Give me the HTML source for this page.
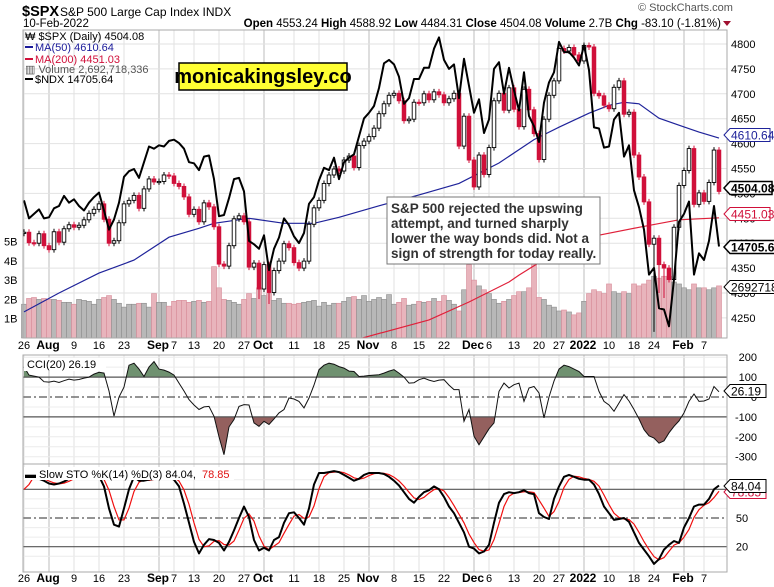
<!DOCTYPE html>
<html><head><meta charset="utf-8"><style>
body{margin:0;background:#fff;}
svg{display:block;font-family:"Liberation Sans",Arial,sans-serif;}
</style></head><body>
<svg id="chart" width="774" height="587" viewBox="0 0 774 587" xmlns="http://www.w3.org/2000/svg">
<rect x="0" y="0" width="774" height="587" fill="#fff"/>
<g>
<text x="22" y="16" font-size="14.5" font-weight="bold" fill="#000">$SPX</text>
<text x="60" y="16" font-size="12" fill="#000">S&amp;P 500 Large Cap Index  INDX</text>
<text x="23" y="27" font-size="11.5" fill="#000">10-Feb-2022</text>
<text x="638" y="11" font-size="11" fill="#555">© StockCharts.com</text>
<text x="721" y="27" font-size="11.5" fill="#000" text-anchor="end"><tspan font-weight="bold">Open</tspan> 4553.24 <tspan font-weight="bold">High</tspan> 4588.92 <tspan font-weight="bold">Low</tspan> 4484.31 <tspan font-weight="bold">Close</tspan> 4504.08 <tspan font-weight="bold">Volume</tspan> 2.7B <tspan font-weight="bold">Chg</tspan> -83.10 (-1.81%)</text>
<polygon points="723,21 731,21 727,26" fill="#a01030"/>
</g>
<g id="grid"></g>
<g id="volume"></g>
<g id="main"></g>
<g id="cci"></g>
<g id="sto"></g>
<g id="axes"></g>
<g font-size="11">
<text x="25" y="40" fill="#000">₩ $SPX (Daily) 4504.08</text>
<line x1="25" y1="47" x2="33" y2="47" stroke="#1a1a9a" stroke-width="2"/>
<text x="35" y="51" fill="#1a1a9a">MA(50) 4610.64</text>
<line x1="25" y1="59" x2="33" y2="59" stroke="#d0103a" stroke-width="2"/>
<text x="35" y="63" fill="#d0103a">MA(200) 4451.03</text>
<text x="25" y="73" fill="#555">▥ Volume 2,692,718,336</text>
<line x1="25" y1="79" x2="33" y2="79" stroke="#000" stroke-width="2"/>
<text x="35" y="83" fill="#000">$NDX 14705.64</text>
</g>
<g>
<rect x="179" y="63" width="168" height="27" fill="#ffff33" stroke="#000" stroke-width="1.5"/>
<text x="263" y="83" font-size="20" font-weight="bold" text-anchor="middle" fill="#000">monicakingsley.co</text>
</g>
<g>
<rect x="387" y="197" width="213" height="67" fill="#fff" stroke="#777" stroke-width="1"/>
<text font-size="13.5" font-weight="bold" fill="#333">
<tspan x="391" y="213">S&amp;P 500 rejected the upswing</tspan>
<tspan x="391" y="228">attempt, and turned sharply</tspan>
<tspan x="391" y="243">lower the way bonds did. Not a</tspan>
<tspan x="391" y="258">sign of strength for today really.</tspan>
</text>
</g>
<g id="labels"></g>
</svg>
<script>
// ---------- data ----------
const closes = [4422,4401,4400,4419,4395,
4387,4423,4402,4429,4437,4432,4436,4447,4460,4468,4479,4448,4400,4405,4441,4479,4486,4496,4470,4509,4529,4523,
4524,4537,4535,4520,4514,4493,4458,4468,4443,4481,4473,4433,4358,4354,4395,4449,4455,4443,4352,4360,4308,
4357,4301,4345,4364,4399,4391,4361,4350,4364,4438,4471,4486,4520,4537,4549,4545,4567,4575,4552,4596,4605,
4614,4631,4660,4680,4697,4701,4686,4646,4649,4683,4682,4700,4688,4704,4698,4682,4690,4701,4595,4655,4567,
4513,4577,4538,4592,4686,4701,4667,4712,4669,4634,4709,4668,4620,4568,4649,4697,4726,4791,4786,4793,4778,4766,
4797,4794,4701,4696,4677,4670,4713,4726,4659,4663,4577,4533,4483,4398,4410,4357,4350,4327,4432,4516,
4546,4590,4478,4501,4484,4522,4587,4504];
const firstOpen = 4420;
const lowExtremes = [[47,4288],[49,4278],[126,4222],[125,4395],[127,4300],[128,4290],[112,4786]];
const ndx = [15120,14960,15000,15040,14960,
14970,15050,15070,15160,15100,15130,15070,15030,15100,15150,15190,15030,14860,14950,15100,15330,15380,15400,15320,15460,15600,15580,
15610,15600,15650,15660,15630,15580,15460,15450,15390,15510,15520,15310,14980,14990,15140,15310,15320,15200,14760,14730,14690,
14810,14500,14690,14790,14960,14900,14800,14740,14830,15090,15150,15300,15410,15390,15500,15310,15460,15500,15530,15690,15850,
15900,15960,16120,16340,16370,16330,16220,15980,16030,16200,16200,16300,16300,16470,16570,16370,16290,16330,16030,16380,16140,
15900,16020,15720,15840,16290,16350,16070,16300,16100,15920,16260,15870,15780,15640,15990,16170,16260,16530,16440,16440,16390,16320,
16500,16280,15770,15760,15590,15600,15840,15900,15510,15610,15210,15060,14860,14460,14520,14160,14150,14000,14420,14930,
15000,15110,14460,14650,14590,14760,15070,14710];
const volume = [1.75,2.05,2.1,2.0,2.05,
2.0,2.0,1.95,1.85,1.85,1.75,2.0,1.95,1.9,1.75,2.0,2.1,2.2,2.0,1.8,1.6,1.75,1.75,1.8,1.8,1.6,2.3,
1.85,1.85,1.65,1.9,1.95,1.95,1.85,1.9,1.95,1.85,1.9,3.7,2.6,2.0,1.95,1.85,1.75,2.0,2.3,2.05,2.6,
2.2,2.3,1.95,2.05,1.8,1.8,1.75,1.8,1.85,1.9,1.95,1.65,1.85,1.7,1.8,1.8,1.9,2.1,2.15,2.0,2.2,
1.9,2.0,2.1,2.0,2.25,1.75,1.85,2.05,1.7,1.75,1.9,1.85,1.9,2.05,1.9,2.2,1.95,1.75,1.4,2.5,3.8,
3.0,2.7,2.5,2.3,2.0,1.8,1.9,2.0,2.2,2.4,2.4,2.6,3.9,2.1,2.0,1.7,1.6,1.4,1.45,1.35,1.2,1.3,
1.9,2.3,2.5,2.4,2.3,2.8,2.4,2.3,2.4,2.3,2.8,2.7,2.8,3.0,3.2,3.1,3.2,3.2,2.9,2.8,
2.6,2.5,2.8,2.6,2.6,2.5,2.6,2.7];
const ma50Idx = [0,7,15,22,29,35,38,45,52,58,63,71,79,87,95,102,107,113,117,120,123,127,131,135,139];
const ma50Val = [4262,4300,4340,4366,4412,4430,4440,4450,4440,4440,4452,4475,4497,4520,4561,4608,4633,4661,4677,4683,4680,4651,4637,4623,4611];
const ma200Idx = [66,81,89,97,99,107,115,123,131,139];
const ma200Val = [4205,4246,4282,4322,4336,4386,4416,4432,4447,4451];
const cci = [152,110,105,100,77,75,80,73,82,90,85,88,95,100,115,124,120,30,-96,0,50,160,170,140,103,150,178,140,135,125,
110,70,30,-13,-40,-63,-50,-47,-97,-200,-290,-150,-113,-47,-38,-40,-130,-147,-122,-138,-110,-80,-63,-5,-10,-22,-55,-5,60,137,
160,170,165,153,145,130,128,103,105,108,110,112,120,130,137,120,100,70,72,87,95,85,78,85,87,60,37,37,-122,-63,
-197,-240,-200,-160,-130,28,70,45,62,70,-22,45,53,20,-105,0,80,140,160,153,140,128,103,103,103,28,-22,-40,-72,-30,
12,-20,-63,-110,-164,-195,-206,-232,-220,-180,-147,-120,-80,-22,15,-22,-20,-10,53,26];
const stoK = [93,94,93,91,89,86,85,86,88,91,94,95,95,95,94,94,83,60,43,41,60,80,93,89,89,90,92,94,94,93,
90,83,65,45,25,13,22,28,27,24,16,25,37,50,62,51,27,16,19,16,27,30,45,55,56,50,43,60,85,97,
97,98,99,98,95,92,89,91,95,97,97,97,96,93,89,84,77,70,66,72,77,79,83,80,72,62,55,45,35,20,
18,13,15,22,45,66,75,77,76,77,79,76,75,55,51,49,70,83,93,95,93,91,90,90,85,75,62,55,48,49,
50,46,35,24,17,10,2,7,17,22,26,24,40,50,62,64,64,70,80,84];
const stoDFirst = [80,85];
const dateTicks = [0,5,10,15,20,27,30,34,39,44,48,54,59,64,69,74,79,84,90,93,98,103,107,112,117,122,126,132,136];
const dateLabels = ['26','Aug','9','16','23','Sep','7','13','20','27','Oct','11','18','25','Nov','8','15','22','Dec','6','13','20','27','2022','10','18','24','Feb','7'];
const monthTicks = ['Aug','Sep','Oct','Nov','Dec','2022','Feb'];
const priceTicks = [4250,4300,4350,4400,4450,4500,4550,4600,4650,4700,4750,4800];
const volTicks = [1,2,3,4,5];
const cciTicks = [200,100,0,-100,-200,-300];
const stoTicks = [20,50,80];

// ---------- scales ----------
const NS='http://www.w3.org/2000/svg';
const L=23, R=727, MT=30, MB=338, CT=355, CB=464, ST=464, SB=572;
const X = i => 24 + 5.0*i;
const YP = p => 44 + (4800-p)*0.498;
const YN = n => 247 - (n-14705.64)*0.1124;
const YV = v => 338 - v*19.3;
const YC = c => 397 - c*0.199;
const YS = s => 518 - (s-50)*0.957;
function el(tag, attrs, parent){const e=document.createElementNS(NS,tag);for(const k in attrs)e.setAttribute(k,attrs[k]);parent.appendChild(e);return e;}
const grid=document.getElementById('grid'), vol=document.getElementById('volume'), main=document.getElementById('main');
const cciG=document.getElementById('cci'), stoG=document.getElementById('sto'), axes=document.getElementById('axes'), labs=document.getElementById('labels');

[[MT,MB],[CT,CB],[ST,SB]].forEach(([t,b])=>{
  dateTicks.forEach((d,k)=>{
    const isM = monthTicks.includes(dateLabels[k]);
    const g=el('line',{x1:X(d),x2:X(d),y1:t,y2:b,stroke:isM?'#bdbdbd':'#e0e0e0','stroke-width':1},grid);
    
    
  });
});
priceTicks.forEach(p=>{
  const g=el('line',{x1:L,x2:R,y1:YP(p),y2:YP(p),stroke:'#e2e2e2'},grid);
  
  
});
[150,-150,200,-200,-250,-300,50,-50].forEach(c=>{
  const g=el('line',{x1:L,x2:R,y1:YC(c),y2:YC(c),stroke:'#ececec'},grid);
  
  
});
[10,30,40,60,70,90].forEach(s=>{
  const g=el('line',{x1:L,x2:R,y1:YS(s),y2:YS(s),stroke:'#ececec'},grid);
  
  
});

volume.forEach((v,i)=>{
  const prev = i===0?firstOpen:closes[i-1];
  const down = closes[i]<prev;
  const b=el('rect',{x:X(i)-2.5,y:YV(v),width:5,height:338-YV(v),fill:down?'#e8b4bc':'#b8b8b8',stroke:down?'#d88d9a':'#8e8e8e','stroke-width':0.6},vol);
  
  
});

const defs=el('defs',{},document.getElementById('chart'));
const cp=el('clipPath',{id:'mainClip'},defs); el('rect',{x:L,y:MT,width:R-L,height:MB-MT},cp);
main.setAttribute('clip-path','url(#mainClip)');

function linePath(idx, vals, yf){return idx.map((d,k)=>(k?'L':'M')+X(d).toFixed(1)+','+yf(vals[k]).toFixed(1)).join(' ');}
const ma200=el('path',{d:linePath(ma200Idx,ma200Val,YP),fill:'none',stroke:'#e0203a','stroke-width':1.2},main);


const ma50=el('path',{d:linePath(ma50Idx,ma50Val,YP),fill:'none',stroke:'#1f239a','stroke-width':1.2},main);



closes.forEach((c,i)=>{
  const o = i===0?firstOpen:closes[i-1];
  let hi=Math.max(o,c)+6, lo=Math.min(o,c)-6;
  lowExtremes.forEach(([k,v])=>{if(k===i)lo=Math.min(lo,v);});
  const up=c>=o, col=up?'#000':'#d0103a';
  const w=el('line',{x1:X(i),x2:X(i),y1:YP(hi),y2:YP(lo),stroke:col,'stroke-width':1},main);
  
  
  const top=YP(Math.max(o,c)), h=Math.max(1.2,YP(Math.min(o,c))-top);
  const b=el('rect',{x:X(i)-1.8,y:top,width:3.6,height:h,fill:up?'#fff':'#d0103a',stroke:col,'stroke-width':0.9},main);
  
  
});

const ndxLine=el('path',{d:ndx.map((v,i)=>(i?'L':'M')+X(i).toFixed(1)+','+YN(v).toFixed(1)).join(' '),fill:'none',stroke:'#000','stroke-width':2,'stroke-linejoin':'round'},main);



[[MT,MB],[CT,CB],[ST,SB]].forEach(([t,b])=>{
  const r=el('rect',{x:L,y:t,width:R-L,height:b-t,fill:'none',stroke:'#aaa'},axes);
  
  
});

const cpts = cci.map((v,i)=>[X(i),YC(v)]);
const cpStr = cpts.map(p=>p[0].toFixed(1)+','+p[1].toFixed(1)).join(' ');
const cA=el('clipPath',{id:'cciUp'},defs); el('rect',{x:L,y:CT,width:R-L,height:YC(100)-CT},cA);
const cB=el('clipPath',{id:'cciDn'},defs); el('rect',{x:L,y:YC(-100),width:R-L,height:CB-YC(-100)},cB);
const up=el('polygon',{points:cpStr+' '+X(cci.length-1)+','+YC(100)+' '+X(0)+','+YC(100),fill:'#6f9170','clip-path':'url(#cciUp)'},cciG);


const dn=el('polygon',{points:cpStr+' '+X(cci.length-1)+','+YC(-100)+' '+X(0)+','+YC(-100),fill:'#94605e','clip-path':'url(#cciDn)'},cciG);


[[100,'none'],[-100,'none'],[0,'8,3,2,3']].forEach(([v,da])=>{
  const l=el('line',{x1:L,x2:R,y1:YC(v),y2:YC(v),stroke:'#555','stroke-width':1.2,'stroke-dasharray':da},cciG);
  
  
});
const cl=el('polyline',{points:cpStr,fill:'none',stroke:'#111','stroke-width':1},cciG);



[[80,'none'],[20,'none'],[50,'8,3,2,3']].forEach(([v,da])=>{
  const l=el('line',{x1:L,x2:R,y1:YS(v),y2:YS(v),stroke:'#555','stroke-width':1.2,'stroke-dasharray':da},stoG);
  
  
});
const stoD = stoK.map((v,i)=> i<2 ? stoDFirst[i] : (stoK[i]+stoK[i-1]+stoK[i-2])/3);
const dl=el('polyline',{points:stoD.map((v,i)=>X(i).toFixed(1)+','+YS(v).toFixed(1)).join(' '),fill:'none',stroke:'#f01010','stroke-width':1.2},stoG);


const kl=el('polyline',{points:stoK.map((v,i)=>X(i).toFixed(1)+','+YS(v).toFixed(1)).join(' '),fill:'none',stroke:'#000','stroke-width':2,'stroke-linejoin':'round'},stoG);



function txt(x,y,s,attrs,name){const t=el('text',Object.assign({x:x,y:y,'font-size':11,fill:'#000'},attrs||{}),labs);t.textContent=s;
  
  
  return t;}
priceTicks.forEach(p=>txt(731,YP(p)+4,String(p),{},'price-tick-label'));
volTicks.forEach(v=>txt(4,YV(v)+4,v+'B',{},'volume-tick-label'));
cciTicks.forEach(c=>txt(757,YC(c)+4,String(c),{'text-anchor':'end'},'cci-tick-label'));
stoTicks.forEach(s=>txt(742,YS(s)+4,String(s),{'text-anchor':'middle'},'sto-tick-label'));
[349,582].forEach(y=>{
  dateTicks.forEach((d,k)=>{
    const isM = monthTicks.includes(dateLabels[k]);
    txt(X(d)+(isM?-1:0),y,dateLabels[k],{'text-anchor':'middle','font-weight':isM?'bold':'normal','font-size':isM?12:11},'date-tick-label');
  });
});
const lb1=el('rect',{x:24,y:358,width:82,height:13,fill:'#fff'},labs);


txt(27,368,'CCI(20) 26.19',{'font-size':11},'cci-legend');
const lb2=el('rect',{x:24,y:467,width:210,height:13,fill:'#fff'},labs);


txt(25,478,'▬ Slow STO %K(14) %D(3) 84.04, ',{'font-size':11},'sto-legend');
txt(202,478,'78.85',{'font-size':11,fill:'#e01010'},'sto-legend-d');

function tag(y,s,color,bold,w,name){
  const g=el('g',{},labs);
  
  
  el('polygon',{points:`${724},${y} ${730},${y-6.5} ${730+w},${y-6.5} ${730+w},${y+6.5} ${730},${y+6.5}`,fill:'#fff',stroke:color,'stroke-width':bold?1.5:1},g);
  const t=el('text',{x:731,y:y+4.5,'font-size':12,fill:color==='#d0103a'?'#d0103a':(color==='#1f239a'?'#1f239a':'#000'),'font-weight':bold?'bold':'normal'},g);
  t.textContent=s;
}
tag(135,'4610.64','#1f239a',false,40,'ma50-value-tag');
tag(188,'4504.08','#000',true,42,'last-price-tag');
tag(214,'4451.03','#d0103a',false,40,'ma200-value-tag');
tag(247,'14705.64','#000',true,46,'ndx-value-tag');
tag(287,'2692718336','#000',false,46,'volume-value-tag');
tag(391,'26.19','#000',false,36,'cci-value-tag');
tag(492,'78.85','#d0103a',false,36,'sto-d-value-tag');
tag(486,'84.04','#000',false,36,'sto-k-value-tag');
</script>
</body></html>
